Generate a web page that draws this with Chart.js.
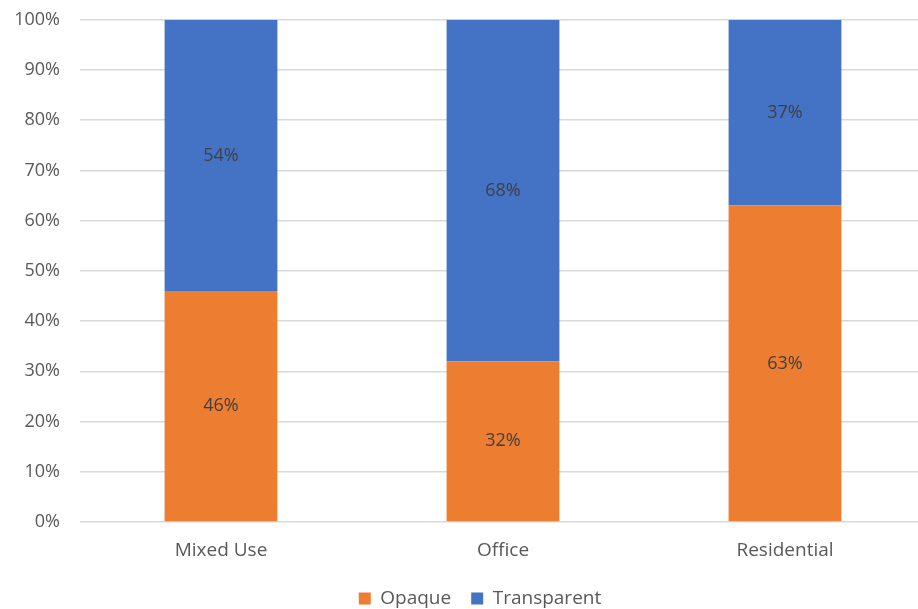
<!DOCTYPE html>
<html>
<head>
<meta charset="utf-8">
<script src="https://cdn.jsdelivr.net/npm/chart.js@4"></script>
<style>
  html, body { margin: 0; padding: 0; background: #fff; overflow: hidden; }
  #wrap { width: 926px; height: 629px; margin-top: -11px; }
</style>
</head>
<body>
<div id="wrap"><canvas id="chart" width="926" height="629"></canvas></div>
<script>
// Datos del gráfico
const categories = ['Mixed Use', 'Office', 'Residential'];
const opaqueValues = [46, 32, 63];
const transparentValues = [54, 68, 37];
const yTicks = [0, 10, 20, 30, 40, 50, 60, 70, 80, 90, 100];

const textColor = '#595959';
const fontFamily = '"Open Sans", "Liberation Sans", sans-serif';

// Plugin sencillo para etiquetas dentro de las barras
const barLabels = {
    id: 'barLabels',
    afterDatasetsDraw(chart) {
        const ctx = chart.ctx;
        ctx.save();
        ctx.font = '18px ' + fontFamily;
        ctx.fillStyle = '#404040';
        ctx.textAlign = 'center';
        ctx.textBaseline = 'middle';
        chart.data.datasets.forEach((ds, i) => {
            const meta = chart.getDatasetMeta(i);
            meta.data.forEach((bar, j) => {
                const p = bar.getProps(['x', 'y', 'base'], true);
                ctx.fillText(ds.data[j] + '%', p.x, (p.y + p.base) / 2);
            });
        });
        ctx.restore();
    }
};

// Desplaza un poco la leyenda hacia la derecha
const legendShift = {
    id: 'legendShift',
    afterLayout(chart) {
        if (chart.legend) {
            chart.legend.left += 11;
            chart.legend.right += 11;
        }
    }
};

const chart = new Chart(document.getElementById('chart').getContext('2d'), {
    type: 'bar',
    data: {
        labels: categories,
        datasets: [{
            label: 'Opaque',
            data: opaqueValues,
            backgroundColor: '#ED7D31',
            barPercentage: 0.8,
            categoryPercentage: 0.5
        }, {
            label: 'Transparent',
            data: transparentValues,
            backgroundColor: '#4472C4',
            barPercentage: 0.8,
            categoryPercentage: 0.5
        }]
    },
    options: {
        responsive: false,
        animation: false,
        layout: { padding: { top: 0, left: 12, right: 0, bottom: 0 } },
        scales: {
            x: {
                stacked: true,
                grid: { display: false },
                border: { display: false },
                afterFit: axis => { axis.height = 47; },
                ticks: {
                    color: textColor,
                    font: { size: 19, family: fontFamily },
                    padding: 9
                }
            },
            y: {
                stacked: true,
                min: 0,
                max: 100,
                afterBuildTicks: axis => {
                    axis.ticks = yTicks.map(v => ({ value: v }));
                },
                afterFit: axis => { axis.width = 68; },
                grid: { color: '#d9d9d9', lineWidth: 1.5, drawTicks: false },
                border: { display: false },
                ticks: {
                    color: textColor,
                    font: { size: 18, family: fontFamily },
                    padding: 20,
                    callback: v => v + '%'
                }
            }
        },
        plugins: {
            legend: {
                position: 'bottom',
                labels: {
                    color: textColor,
                    font: { size: 19, family: fontFamily },
                    boxWidth: 12,
                    boxHeight: 12,
                    padding: 20
                }
            },
            tooltip: { enabled: false }
        }
    },
    plugins: [barLabels, legendShift]
});
</script>
</body>
</html>
